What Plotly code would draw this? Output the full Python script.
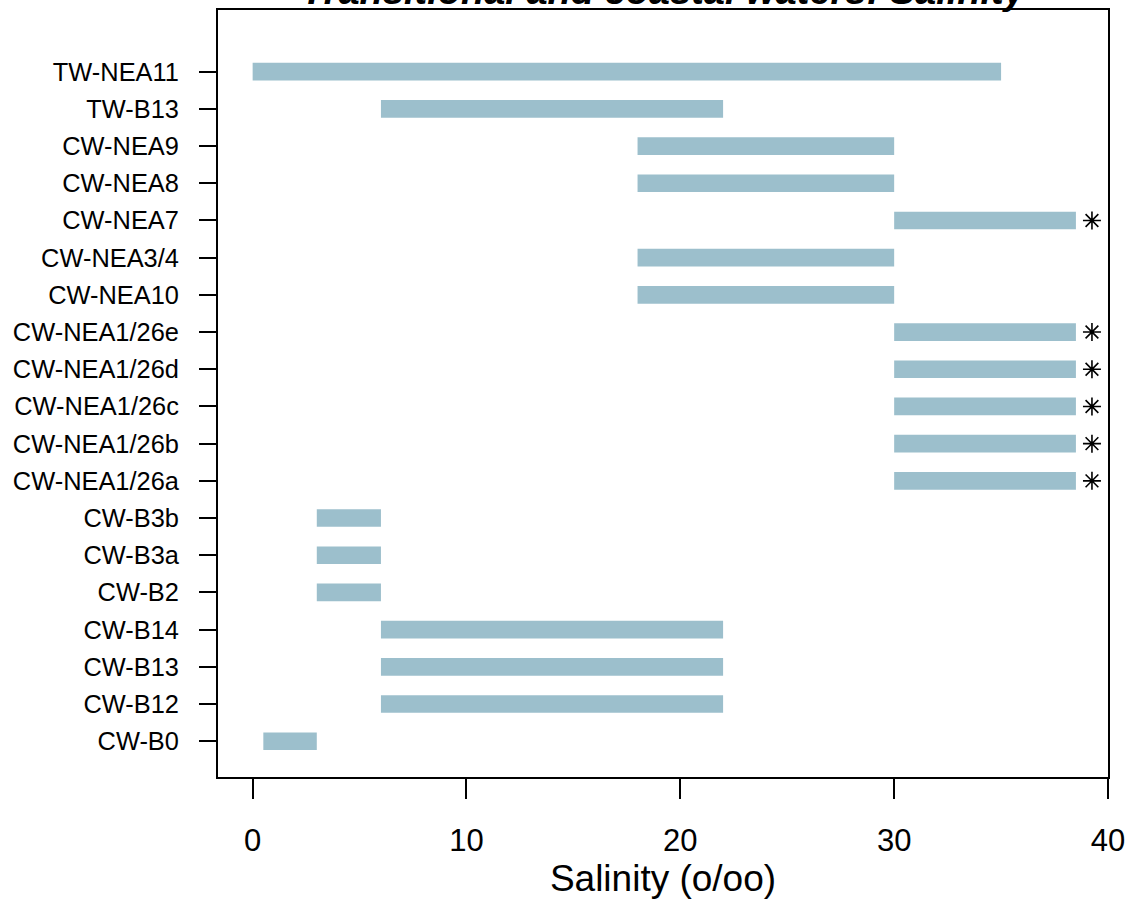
import plotly.graph_objects as go

# Water body types, listed bottom to top
water_bodies = [
    "CW-B0", "CW-B12", "CW-B13", "CW-B14", "CW-B2", "CW-B3a", "CW-B3b",
    "CW-NEA1/26a", "CW-NEA1/26b", "CW-NEA1/26c", "CW-NEA1/26d", "CW-NEA1/26e",
    "CW-NEA10", "CW-NEA3/4", "CW-NEA7", "CW-NEA8", "CW-NEA9",
    "TW-B13", "TW-NEA11",
]
salinity_min = [0.5, 6, 6, 6, 3, 3, 3,
                30, 30, 30, 30, 30,
                18, 18, 30, 18, 18,
                6, 0]
salinity_max = [3, 22, 22, 22, 6, 6, 6,
                38.5, 38.5, 38.5, 38.5, 38.5,
                30, 30, 38.5, 30, 30,
                22, 35]

# Types whose upper limit is open-ended
flagged = ["CW-NEA1/26a", "CW-NEA1/26b", "CW-NEA1/26c", "CW-NEA1/26d",
           "CW-NEA1/26e", "CW-NEA7"]
flag_x = 39.25

x_ticks = [0, 10, 20, 30, 40]

FONT = "Liberation Sans, Arial, sans-serif"

fig = go.Figure()
fig.add_trace(go.Bar(
    y=water_bodies,
    x=[hi - lo for lo, hi in zip(salinity_min, salinity_max)],
    base=salinity_min,
    orientation="h",
    width=0.475,
    marker=dict(color="#9cbfcc", line=dict(width=0)),
    hoverinfo="skip",
))
fig.add_trace(go.Scatter(
    y=flagged,
    x=[flag_x] * len(flagged),
    mode="markers",
    marker=dict(symbol="asterisk-open", size=15, color="black",
                line=dict(color="black", width=1.6)),
    hoverinfo="skip",
))

fig.update_layout(
    width=1134, height=902,
    margin=dict(l=218, r=26, t=10, b=125, autoexpand=False),
    paper_bgcolor="white", plot_bgcolor="white",
    showlegend=False,
    font=dict(family=FONT, color="black"),
    title=dict(
        text="Transitional and coastal waters: Salinity",
        font=dict(family=FONT, size=38, weight="bold", style="italic", color="black"),
        x=(218 + 1108) / 2 / 1134, xanchor="center",
        y=1 - 4 / 902, yanchor="bottom", yref="container",
    ),
    xaxis=dict(
        range=[-1.62, 40.0],
        tickvals=x_ticks,
        ticks="outside", ticklen=20, tickwidth=2, tickcolor="black",
        tickfont=dict(size=31),
        ticklabelstandoff=15,
        showgrid=False, zeroline=False, automargin=False,
        showline=True, linecolor="black", linewidth=2, mirror=True,
        title=dict(text="Salinity (o/oo)", font=dict(size=37), standoff=0),
    ),
    yaxis=dict(
        type="category",
        categoryorder="array", categoryarray=water_bodies,
        range=[-0.962, 19.658],
        ticks="outside", ticklen=17, tickwidth=2, tickcolor="black",
        tickfont=dict(size=25.4),
        ticklabelstandoff=15,
        showgrid=False, zeroline=False, automargin=False,
        showline=True, linecolor="black", linewidth=2, mirror=True,
    ),
)

fig.write_html("out.html")
